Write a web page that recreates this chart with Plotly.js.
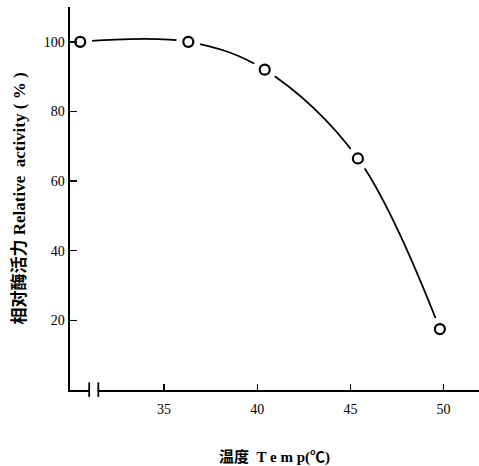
<!DOCTYPE html>
<html>
<head>
<meta charset="utf-8">
<script src="https://cdn.plot.ly/plotly-3.0.1.min.js"></script>
<style>html,body{margin:0;padding:0;background:#fff;}#chart{width:479px;height:466px;}</style>
</head>
<body>
<div id="chart"></div>
<script>
// Data
const temperature = [30.5, 36.3, 40.4, 45.4, 49.8];      // °C
const relativeActivity = [100, 100, 92, 66.5, 17.5];    // %
const xTickValues = [35, 40, 45, 50];
const xTickLabels = ['35', '40', '45', '50'];
const yTickValues = [20, 40, 60, 80, 100];
const yTickLabels = ['20', '40', '60', '80', '100'];

const FONT = 'Liberation Serif, Times New Roman, Noto Sans CJK SC, serif';

const traces = [
  {
    x: temperature, y: relativeActivity,
    mode: 'lines', type: 'scatter',
    line: {shape: 'spline', smoothing: 1, color: '#000', width: 1.8},
    hoverinfo: 'skip', showlegend: false
  },
  {
    x: temperature, y: relativeActivity,
    mode: 'markers', type: 'scatter',
    marker: {symbol: 'circle', size: 24, color: '#fff', line: {width: 0}},
    hoverinfo: 'skip', showlegend: false
  },
  {
    x: temperature, y: relativeActivity,
    mode: 'markers', type: 'scatter',
    marker: {symbol: 'circle', size: 10, color: '#fff', line: {color: '#000', width: 2.2}},
    showlegend: false
  }
];

const layout = {
  width: 479, height: 466,
  margin: {l: 70, r: 0, t: 7, b: 76},
  paper_bgcolor: '#fff', plot_bgcolor: '#fff',
  font: {family: FONT, color: '#000', size: 13},
  xaxis: {
    range: [29.95, 51.9],
    showgrid: false, zeroline: false,
    showline: true, linecolor: '#000', linewidth: 2,
    ticks: 'inside', ticklen: 6, tickwidth: 1.5, tickcolor: '#000',
    tickvals: xTickValues, ticktext: xTickLabels,
    ticklabelstandoff: 5,
    tickfont: {family: FONT, size: 14, color: '#000'},
    title: {text: '<b>温度  T e m p(℃)</b>', font: {family: FONT, size: 15, color: '#000'}, standoff: 36}
  },
  yaxis: {
    range: [0, 110],
    showgrid: false, zeroline: false,
    showline: true, linecolor: '#000', linewidth: 2.4,
    ticks: 'inside', ticklen: 7, tickwidth: 1.5, tickcolor: '#000',
    tickvals: yTickValues, ticktext: yTickLabels,
    tickfont: {family: FONT, size: 14, color: '#000'},
    title: {text: '<b>相对酶活力 Relative  activity ( % )</b>', font: {family: FONT, size: 17, color: '#000'}, standoff: 14}
  },
  shapes: [
    {type: 'rect', xref: 'x', yref: 'paper', x0: 31.02, x1: 31.44, y0: -0.02, y1: 0.012, fillcolor: '#fff', line: {width: 0}, layer: 'above'},
    {type: 'line', xref: 'x', yref: 'paper', x0: 30.98, x1: 30.98, y0: -0.018, y1: 0.02, line: {color: '#000', width: 1.8}, layer: 'above'},
    {type: 'line', xref: 'x', yref: 'paper', x0: 31.47, x1: 31.47, y0: -0.018, y1: 0.02, line: {color: '#000', width: 1.8}, layer: 'above'}
  ]
};

Plotly.newPlot('chart', traces, layout, {displayModeBar: false, staticPlot: true});
</script>
</body>
</html>
